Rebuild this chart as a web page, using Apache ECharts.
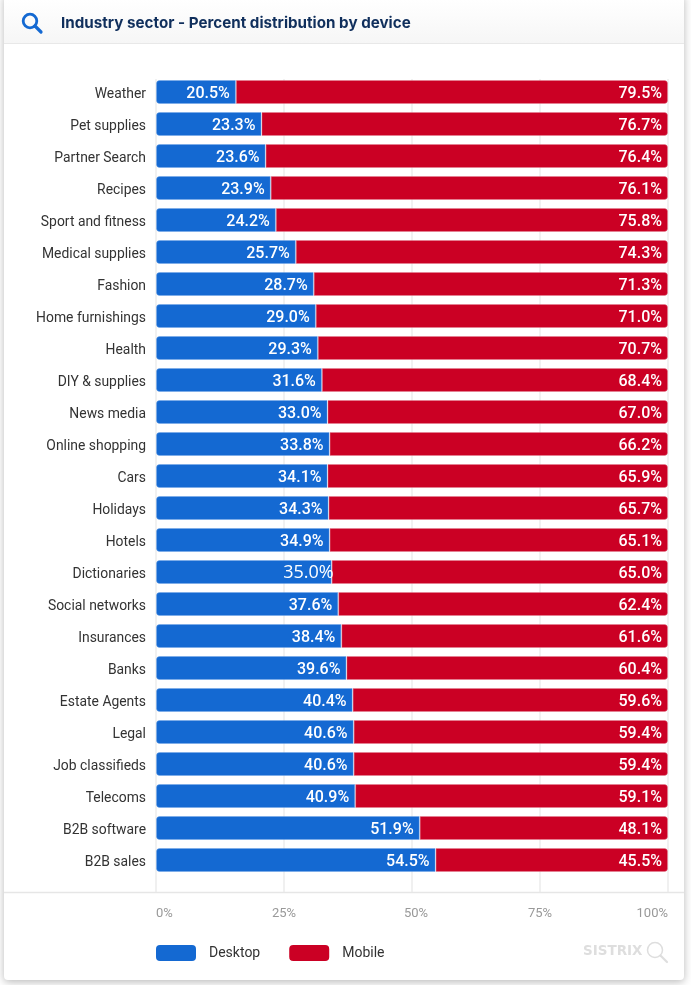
<!DOCTYPE html>
<html>
<head>
<meta charset="utf-8">
<style>html,body{margin:0;padding:0;background:#fff}#c{width:691px;height:985px}</style>
<script src="https://cdn.jsdelivr.net/npm/echarts@6/dist/echarts.min.js"></script>
</head>
<body>
<div id="c"></div>
<script>
var categories = ["Weather","Pet supplies","Partner Search","Recipes","Sport and fitness","Medical supplies","Fashion","Home furnishings","Health","DIY & supplies","News media","Online shopping","Cars","Holidays","Hotels","Dictionaries","Social networks","Insurances","Banks","Estate Agents","Legal","Job classifieds","Telecoms","B2B software","B2B sales"];
// Bar lengths as drawn in the picture (they differ from the printed labels)
var desktopDrawn = [15.6,20.6,21.4,22.4,23.4,27.3,30.8,31.2,31.6,32.4,33.5,33.9,33.5,33.7,33.9,34.3,35.6,36.2,37.2,38.4,38.6,38.6,38.9,51.5,54.6];
var mobileDrawn = [84.4,79.4,78.6,77.6,76.6,72.7,69.2,68.8,68.4,67.6,66.5,66.1,66.5,66.3,66.1,65.7,64.4,63.8,62.8,61.6,61.4,61.4,61.1,48.5,45.4];
// Printed labels
var desktopLabels = ["20.5%","23.3%","23.6%","23.9%","24.2%","25.7%","28.7%","29.0%","29.3%","31.6%","33.0%","33.8%","34.1%","34.3%","34.9%","35.0%","37.6%","38.4%","39.6%","40.4%","40.6%","40.6%","40.9%","51.9%","54.5%"];
var mobileLabels = ["79.5%","76.7%","76.4%","76.1%","75.8%","74.3%","71.3%","71.0%","70.7%","68.4%","67.0%","66.2%","65.9%","65.7%","65.1%","65.0%","62.4%","61.6%","60.4%","59.6%","59.4%","59.4%","59.1%","48.1%","45.5%"];
var seriesNames = ["Desktop","Mobile"];
var titleText = "Industry sector - Percent distribution by device";
var brandText = "SISTRIX";

var BLUE = "#1469d2", RED = "#cb0024";
var font = "Roboto, sans-serif";
var chart = echarts.init(document.getElementById("c"), null, {renderer:"canvas"});

var desktopData = desktopDrawn.map(function(v,i){
  var item = {value:v};
  if (desktopLabels[i] === "35.0%") {
    item.label = {fontFamily:"'Open Sans', sans-serif", fontWeight:400, fontSize:18, distance:-2, offset:[0,1]};
  }
  return item;
});

chart.setOption({
  animation:false,
  backgroundColor:"#fff",
  title:{text:titleText, left:56, top:11, textStyle:{fontFamily:"Inter, sans-serif", fontSize:15.2, fontWeight:700, color:"#102f5c"}},
  grid:{left:156, right:23, top:76, height:800},
  legend:{left:151, top:940, itemWidth:40, itemHeight:16, itemGap:29, icon:"roundRect",
    textStyle:{fontFamily:font, fontSize:14, color:"#333", padding:[0,0,0,8]},
    itemStyle:{borderWidth:0}, data:seriesNames},
  xAxis:{type:"value", min:0, max:100, interval:25,
    axisLine:{show:false},
    axisTick:{show:true, length:16, lineStyle:{color:"#ececec", width:1.5}},
    splitLine:{show:true, lineStyle:{color:"#ececec", width:1.5}},
    axisLabel:{margin:31, color:"#999", fontFamily:font, fontSize:13,
      alignMinLabel:"left", alignMaxLabel:"right",
      formatter:function(v){ return v===50 ? "{m|"+v+"%}" : v+"%"; },
      rich:{m:{padding:[0,0,0,8], color:"#999", fontFamily:font, fontSize:13}}}
  },
  yAxis:{type:"category", inverse:true, data:categories,
    axisLine:{show:false}, axisTick:{show:false},
    axisLabel:{margin:10, formatter:function(v){ return "{c|"+v+"}"; },
      rich:{c:{color:"#333", fontFamily:font, fontSize:13.9, padding:[5,0,0,0]}}}},
  series:[
    {name:seriesNames[0], type:"bar", stack:"a", barWidth:24, data:desktopData, z:3,
     itemStyle:{color:BLUE, borderRadius:[3,0,0,3], borderColor:"rgba(110,165,232,0.4)", borderWidth:1},
     label:{show:true, position:"insideRight", distance:6, offset:[0,1.5], color:"#fff", fontFamily:font, fontSize:16, fontWeight:500,
       formatter:function(p){return desktopLabels[p.dataIndex];}}},
    {name:seriesNames[1], type:"bar", stack:"a", barWidth:24, data:mobileDrawn, z:2,
     itemStyle:{color:RED, borderRadius:[0,3,3,0], borderColor:"rgba(228,130,148,0.4)", borderWidth:1},
     label:{show:true, position:"insideRight", distance:6, offset:[0,1.5], color:"#fff", fontFamily:font, fontSize:16, fontWeight:500,
       formatter:function(p){return mobileLabels[p.dataIndex];}}}
  ],
  graphic:[
    {type:"rect", z:-10, silent:true, shape:{x:4,y:-6,width:680,height:986,r:4},
     style:{fill:"#fff", shadowBlur:9, shadowColor:"rgba(0,0,0,0.28)", shadowOffsetY:2}},
    {type:"rect", z:-9, silent:true, shape:{x:4,y:0,width:680,height:43},
     style:{fill:new echarts.graphic.LinearGradient(0,0,0,1,[{offset:0,color:"#ffffff"},{offset:1,color:"#f6f6f6"}])}},
    {type:"line", z:-8, silent:true, shape:{x1:4,y1:43.5,x2:684,y2:43.5}, style:{stroke:"#e8e8e8",lineWidth:1}},
    {type:"line", z:1, silent:true, shape:{x1:4,y1:892.5,x2:684,y2:892.5}, style:{stroke:"#e6e6e6",lineWidth:1.5}},
    {type:"rect", z:1, silent:true, shape:{x:150,y:70,width:530,height:9}, style:{fill:"#fff"}},
    {type:"circle", z:5, silent:true, shape:{cx:30,cy:21,r:6.8}, style:{fill:"none",stroke:BLUE,lineWidth:2.8}},
    {type:"line", z:5, silent:true, shape:{x1:35,y1:26,x2:41,y2:32}, style:{stroke:BLUE,lineWidth:3.2,lineCap:"round"}},
    {type:"text", z:5, silent:true, style:{x:583,y:951,text:brandText,fill:"#dedede",font:"700 13.5px 'DejaVu Sans', sans-serif",textVerticalAlign:"middle"}},
    {type:"circle", z:5, silent:true, shape:{cx:655,cy:950,r:7.5}, style:{fill:"none",stroke:"#dedede",lineWidth:1.5}},
    {type:"line", z:5, silent:true, shape:{x1:660.5,y1:955.5,x2:667,y2:962}, style:{stroke:"#dedede",lineWidth:2.2,lineCap:"round"}}
  ]
});
</script>
</body>
</html>
